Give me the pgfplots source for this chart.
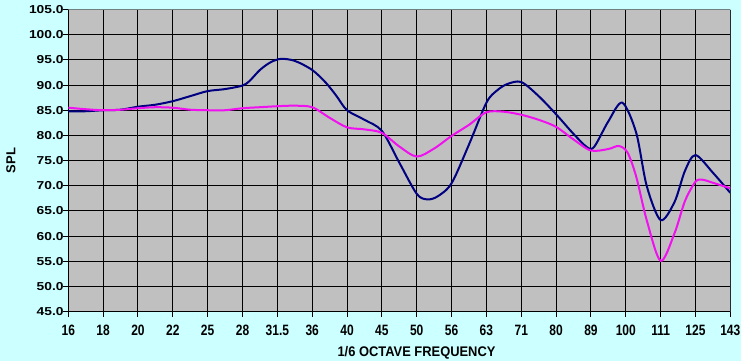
\documentclass[border=0pt]{standalone}
\usepackage{pgfplots}
\pgfplotsset{compat=1.18}
\usepackage{fontspec}
\setmainfont{Liberation Sans}
\definecolor{bgc}{HTML}{CCFFFF}
\definecolor{plotbg}{HTML}{C0C0C0}
\definecolor{navyc}{HTML}{000080}
\definecolor{magc}{HTML}{F010F0}
\definecolor{borderc}{HTML}{708080}
\newcommand\sx[1]{\scalebox{1}[1.25]{#1}}
\begin{document}
\begin{tikzpicture}
\fill[bgc] (0,0) rectangle (741pt,361pt);
\begin{axis}[
  at={(68.3pt,49.3pt)}, anchor=south west,
  width=662pt, height=302.2pt, scale only axis,
  xmin=0, xmax=19, ymin=45, ymax=105,
  axis background/.style={fill=plotbg},
  axis lines=left, axis line style={-, black, line width=1pt},
  xtick={0,...,19},
  xticklabels={\sx{16},\sx{18},\sx{20},\sx{22},\sx{25},\sx{28},\sx{31.5},\sx{36},\sx{40},\sx{45},\sx{50},\sx{56},\sx{63},\sx{71},\sx{80},\sx{89},\sx{100},\sx{111},\sx{125},\sx{143}},
  ytick={45,50,...,105},
  grid=major, major grid style={black, line width=1pt},
  tick align=outside, major tick length=5pt, tick style={black, line width=1pt},
  /pgf/number format/assume math mode=true,
  yticklabel={\scalebox{1.2}[1]{\pgfmathprintnumber[fixed,fixed zerofill,precision=1]{\tick}}},
  yticklabel style={font=\bfseries\fontsize{11.5}{12}\selectfont, anchor=east, inner sep=0pt, xshift=0.5pt},
  xticklabel style={font=\bfseries\fontsize{12}{13}\selectfont, anchor=north, inner sep=0pt, yshift=-8pt},
  xlabel={\scalebox{1}[1.08]{1/6 OCTAVE FREQUENCY}},
  xlabel style={font=\bfseries\fontsize{12.9}{14}\selectfont, at={(axis description cs:0.526,-0.1367)}, anchor=center},
  ylabel={SPL},
  ylabel style={font=\bfseries\fontsize{13}{14}\selectfont, at={(axis description cs:-0.0866,0.5)}, anchor=center},
]
\addplot[navyc, line width=2pt, smooth, tension=0.5] coordinates {
(0,84.8) (0.5,84.8) (1,85.0) (1.5,85.1) (2,85.7) (2.5,86.1) (3,86.8) (3.5,87.8)
(4,88.8) (4.5,89.2) (5,89.9) (5.2,90.8) (5.5,93.0) (5.8,94.5) (6.1,95.2) (6.5,94.8)
(7,93.0) (7.4,90.4) (7.7,87.8) (8,85.0) (8.5,83.1) (9,80.9) (9.5,74.6) (10,68.4)
(10.3,67.3) (10.6,67.9) (11,70.5) (11.5,78.2) (12,86.5) (12.3,88.9) (12.6,90.2) (13,90.6)
(13.5,87.8) (14,84.2) (14.5,80.3) (14.9,77.6) (15.1,77.8) (15.5,82.8) (15.9,86.5) (16.3,80.5)
(16.6,70.0) (17,63.2) (17.4,66.8) (17.7,73.0) (18,76.1) (18.5,72.6) (19,68.6)
};
\addplot[magc, line width=2pt, smooth, tension=0.5] coordinates {
(0,85.5) (0.5,85.2) (1,85.0) (1.5,85.1) (2,85.4) (2.5,85.6) (3,85.5) (3.5,85.1)
(4,85.0) (4.5,85.0) (5,85.4) (5.5,85.6) (6,85.8) (6.5,85.9) (7,85.6) (7.5,83.5)
(8,81.6) (8.5,81.2) (9,80.5) (9.5,77.8) (10,75.8) (10.5,77.4) (11,79.9) (11.5,82.1)
(12,84.6) (12.5,84.7) (13,84.1) (13.5,83.1) (14,81.7) (14.5,79.2) (15,77.0) (15.5,77.3)
(15.8,77.9) (16.05,76.6) (16.3,71.8) (16.6,63.2) (17,55.1) (17.4,60.6) (17.7,67.0) (18,70.8)
(18.2,71.2) (18.5,70.6) (19,69.5)
};
\draw[borderc, line width=1pt] (rel axis cs:0,1) -- (rel axis cs:1,1) -- (rel axis cs:1,0);
\end{axis}
\end{tikzpicture}
\end{document}
